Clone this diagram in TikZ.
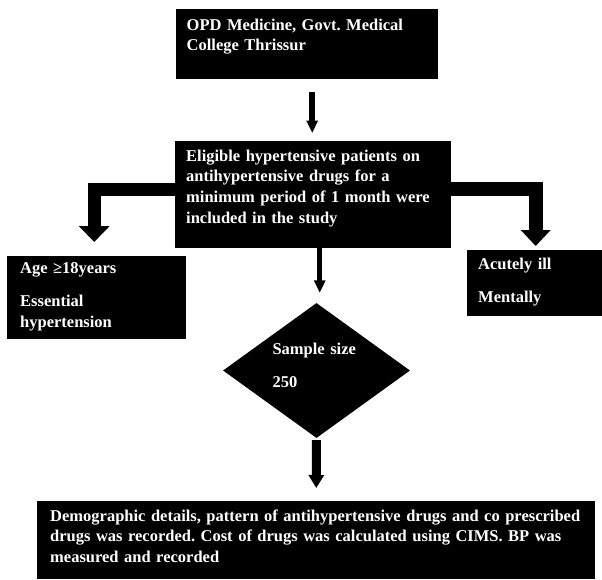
\documentclass[tikz,border=0pt]{standalone}
\usepackage{fontspec}
\setmainfont{Liberation Serif}
\usetikzlibrary{arrows.meta,shapes.geometric}

\tikzset{
	blackbox/.style={fill=black, text=white, anchor=north west, inner ysep=0pt, align=left,
		font=\bfseries\fontsize{16.5}{20.7}\selectfont\frenchspacing},
	thinarrow/.style={line width=#1, -{Triangle[width=11pt,length=12.5pt]}},
	blockarrow/.style={line width=#1, line join=miter}
}

\begin{document}
\begin{tikzpicture}[x=1pt, y=-1pt]
		\useasboundingbox (0,0) rectangle (602,579);
		
		% OPD
		\node[blackbox, inner xsep=10.5pt, text width=241pt, text height=21pt, text depth=49pt] (opd) at (176,9)
		{OPD Medicine, Govt. Medical\\College Thrissur};
		
		% Eligible patients
		\node[blackbox, inner xsep=11pt, text width=254pt, text height=20pt, text depth=87pt] (eligible) at (175,141)
		{Eligible hypertensive patients on\\antihypertensive drugs for a\\minimum period of 1 month were\\included in the study};
		
		% Inclusion
		\node[blackbox, inner xsep=13pt, text width=153pt, text height=17pt, text depth=66pt] (inclusion) at (7,256)
		{Age ≥18years\\[13pt]Essential\\hypertension};
		
		% Exclusion
		\node[blackbox, inner xsep=11pt, text width=113pt, text height=19pt, text depth=47pt] (exclusion) at (467,250)
		{Acutely ill\\[12.5pt]Mentally};
		
		% Sample size
		\node[blackbox, diamond, anchor=center, inner sep=0pt, shape aspect=1.385, minimum width=187pt, minimum height=135pt,
			text width=88pt, text height=18.5pt, text depth=51.5pt] (sample) at (316.5,370.5)
		{Sample size\\[13pt]250};
		
		% Recorded data
		\node[blackbox, inner xsep=13pt, text width=532pt, text height=20pt, text depth=58pt] (recorded) at (37,501)
		{Demographic details, pattern of antihypertensive drugs and co prescribed\\drugs was recorded. Cost of drugs was calculated using CIMS. BP was\\measured and recorded};
		
		% Arrows
		\draw[thinarrow=6pt, shorten <=13pt, shorten >=8pt]
		([xshift=5pt]opd.south) -- ([xshift=5pt]opd.south |- eligible.north);
		\draw[thinarrow=5.5pt, shorten >=10pt]
		([xshift=6.5pt]eligible.south) -- ([xshift=6.5pt]eligible.south |- sample.north);
		\draw[blockarrow=9pt, -{Triangle[width=15pt,length=13pt]}, shorten <=2pt, shorten >=13pt]
		(sample.south) -- (recorded.north);
		
		% Elbow arrows
		\draw[blockarrow=13pt, -{Triangle[width=30pt,length=16pt]}, shorten >=14pt]
		([yshift=5.5pt]eligible.west) -| ([xshift=-2.5pt]inclusion.north);
		\draw[blockarrow=14pt, -{Triangle[width=29pt,length=16pt]}, shorten >=4pt]
		([yshift=5.5pt]eligible.east) -| ([xshift=1pt]exclusion.north);
		
\end{tikzpicture}
\end{document}
